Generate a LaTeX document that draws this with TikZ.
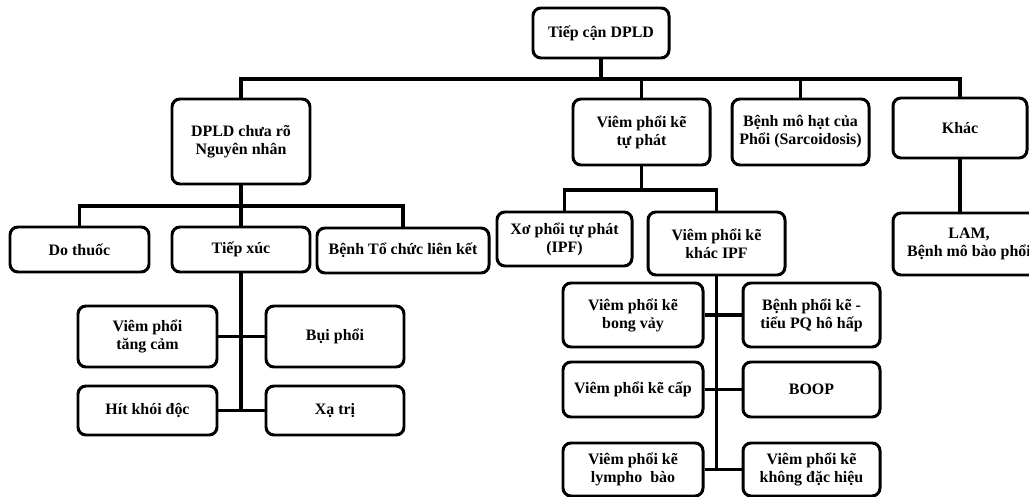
\documentclass[tikz,border=0pt]{standalone}
\usepackage{fontspec}
\setmainfont{Liberation Serif}

\tikzset{
  hop/.style={draw, line width=3pt, rounded corners=8pt, fill=white,
    align=center, inner sep=1pt, font=\bfseries\fontsize{16}{18}\selectfont},
  noi/.style={line width=3.2pt},
}

\begin{document}
\begin{tikzpicture}[x=1bp, y=-1bp]
    \useasboundingbox (0,0) rectangle (1029,497);

    % Gốc
    \node[hop, minimum width=136bp, minimum height=50bp] (goc) at (601,33) {Tiếp cận DPLD};

    % Tầng 1
    \node[hop, minimum width=138bp, minimum height=85bp] (dpld) at (241,141.5) {DPLD chưa rõ\\Nguyên nhân};
    \node[hop, minimum width=137bp, minimum height=66bp] (vpk) at (641.5,132) {Viêm phổi kẽ\\tự phát};
    \node[hop, minimum width=137bp, minimum height=66bp] (sarc) at (800.5,132) {Bệnh mô hạt của\\Phổi (Sarcoidosis)};
    \node[hop, minimum width=134bp, minimum height=60bp] (khac) at (960,128) {Khác};

    % Nhánh DPLD chưa rõ nguyên nhân
    \node[hop, minimum width=139bp, minimum height=45bp] (thuoc) at (79.5,249.5) {Do thuốc};
    \node[hop, minimum width=138bp, minimum height=45bp] (tiepxuc) at (241,249.5) {Tiếp xúc};
    \node[hop, minimum width=172bp, minimum height=45bp] (tochuc) at (403,250.5) {Bệnh Tổ chức liên kết};

    % Nhánh tiếp xúc
    \node[hop, minimum width=139bp, minimum height=61bp] (tangcam) at (147.5,336.5) {Viêm phổi\\tăng cảm};
    \node[hop, minimum width=138bp, minimum height=61bp] (buiphoi) at (335,336.5) {Bụi phổi};
    \node[hop, minimum width=139bp, minimum height=49bp] (hit) at (147.5,410.5) {Hít khói độc};
    \node[hop, minimum width=138bp, minimum height=49bp] (xatri) at (335,410.5) {Xạ trị};

    % Nhánh viêm phổi kẽ tự phát
    \node[hop, minimum width=135bp, minimum height=54bp] (xo) at (564.5,239) {Xơ phổi tự phát\\(IPF)};
    \node[hop, minimum width=137bp, minimum height=63bp] (khacipf) at (716.5,243.5) {Viêm phổi kẽ\\khác IPF};

    % Nhánh khác IPF
    \node[hop, minimum width=140bp, minimum height=64bp] (bongvay) at (633,315) {Viêm phổi kẽ\\bong vảy};
    \node[hop, minimum width=137bp, minimum height=64bp] (benhke) at (811.5,315) {Bệnh phổi kẽ -\\tiểu PQ hô hấp};
    \node[hop, minimum width=140bp, minimum height=55bp] (cap) at (633,389.5) {Viêm phổi kẽ cấp};
    \node[hop, minimum width=137bp, minimum height=55bp] (boop) at (811.5,389.5) {BOOP};
    \node[hop, minimum width=140bp, minimum height=53bp] (lympho) at (633,469.5) {Viêm phổi kẽ\\lympho\ \ bào};
    \node[hop, minimum width=137bp, minimum height=53bp] (khongdh) at (811.5,469.5) {Viêm phổi kẽ\\không đặc hiệu};

    % Nhánh khác
    \node[hop, minimum width=152bp, minimum height=62bp] (lam) at (969,244) {LAM,\\Bệnh mô bào phổi};

    % Đường nối
    \coordinate (bus1) at (601,79);
    \coordinate (bus2) at (241,206);
    \coordinate (bus3) at (641,190);
    \draw[noi] (goc) -- (goc |- bus1);
    \draw[noi] (dpld) |- (bus1) -| (khac);
    \draw[noi] (vpk) -- (vpk |- bus1);
    \draw[noi] (sarc) -- (sarc |- bus1);

    \draw[noi] (thuoc) |- (bus2) -| (tochuc);
    \draw[noi] (dpld) -- (tiepxuc);
    \draw[noi] (tiepxuc) -- (tiepxuc |- hit);
    \draw[noi] (tangcam) -- (buiphoi);
    \draw[noi] (hit) -- (xatri);

    \draw[noi] (xo) |- (bus3) -| (khacipf);
    \draw[noi] (vpk) -- (vpk |- bus3);
    \draw[noi] (khacipf) -- (khacipf |- lympho.east);
    \draw[noi] (bongvay) -- (benhke);
    \draw[noi] (cap) -- (boop);
    \draw[noi] (lympho.east) -- (khongdh.west);

    \draw[noi] (khac) -- (khac |- lam.north);
\end{tikzpicture}
\end{document}
